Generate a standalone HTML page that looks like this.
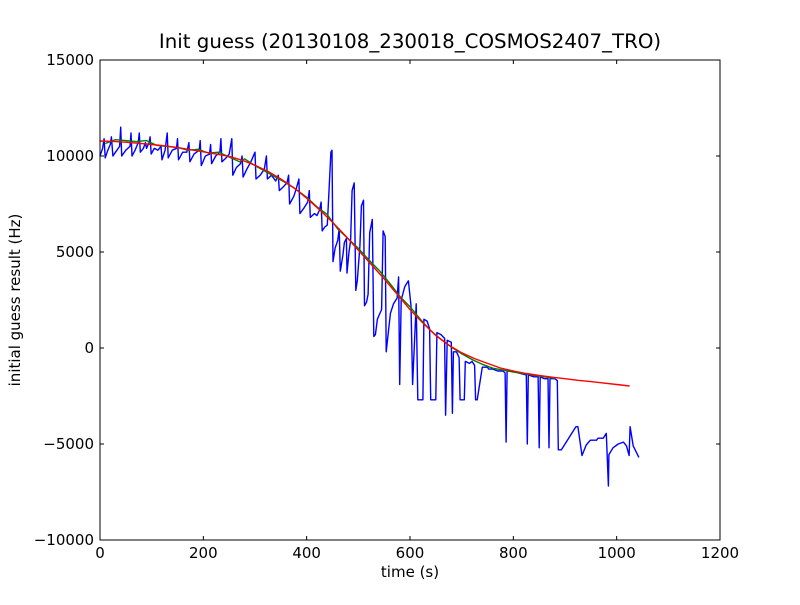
<!DOCTYPE html>
<html><head><meta charset="utf-8"><style>
body{margin:0;background:#fff}
svg text{font-family:"DejaVu Sans","Liberation Sans",sans-serif;fill:#000}
</style></head><body>
<svg id="chart" width="800" height="600" xmlns="http://www.w3.org/2000/svg">
<rect width="800" height="600" fill="#fff"/>
<text x="410" y="48" font-size="19.8" text-anchor="middle">Init guess (20130108_230018_COSMOS2407_TRO)</text>
<text x="410" y="577" font-size="15" text-anchor="middle">time (s)</text>
<text x="20" y="300" font-size="15" text-anchor="middle" transform="rotate(-90 20 300)">initial guess result (Hz)</text>
<g id="ticks"></g>
<g id="plot"></g>
<rect x="100" y="60" width="620" height="480" fill="none" stroke="#000" stroke-width="1"/>
</svg>
<script>
const xTicks=[0,200,400,600,800,1000,1200];
const yTicks=[-10000,-5000,0,5000,10000,15000];
const yTickLabels=["\u221210000","\u22125000","0","5000","10000","15000"];
const blueT=[0,5,8,10,15,20,22,25,30,38,40,42,50,58,60,62,68,74,76,78,84,88,90,95,97,99,105,112,118,120,126,130,132,140,148,150,152,160,168,172,174,182,192,194,196,204,212,214,216,224,232,234,236,244,250,255,257,264,272,275,277,284,292,300,302,310,318,322,324,332,340,345,347,355,362,365,367,375,380,385,387,395,402,405,407,415,420,425,428,430,435,440,447,449,451,455,460,463,465,470,473,477,478,482,485,488,492,495,498,503,506,510,512,516,519,522,527,530,533,537,540,545,548,552,554,562,568,575,578,580,583,590,597,602,605,612,615,625,627,633,638,640,650,652,660,667,669,672,680,682,684,690,695,697,705,707,715,720,725,727,730,740,750,752,760,770,780,784,786,788,800,810,825,827,829,840,848,850,852,860,867,869,871,880,885,887,893,921,925,933,941,949,961,964,974,980,984,985,993,1003,1013,1019,1024,1026,1032,1043];
const blueV=[10000,10400,10900,9900,10300,10600,11000,10000,10200,10500,11500,10000,10300,10500,11200,10000,10300,10700,11200,10200,10400,10700,10400,10700,11000,10100,10400,10300,10500,9800,10300,11200,9900,10300,10400,10900,9800,10200,10200,10700,9700,10100,10300,10800,9500,10000,10100,10600,9600,10000,10200,10900,9700,9900,10100,10900,9000,9400,9600,10000,8900,9300,9700,10200,8800,9000,9300,10000,8800,9000,8700,9000,8200,8400,8600,9000,7500,7900,8300,8800,7000,7300,7600,8200,6800,7000,6900,7200,7600,6100,6300,6400,10200,10300,4500,5200,5600,6200,4000,4800,5500,5700,3900,5000,5600,8200,8600,3000,3500,5300,7400,7700,2200,2400,2800,6000,6700,600,700,1500,1700,2000,6100,5800,-200,1800,2300,2600,3700,-1900,2500,3200,3500,2200,-1900,2300,-2700,-2700,1500,1400,1000,-2700,-2700,800,700,500,-3500,400,300,-3400,-200,-200,-500,-2700,-2700,-700,-800,-700,-900,-2700,-2700,-1000,-1000,-1100,-1100,-1200,-1200,-1300,-4900,-1200,-1200,-1300,-1400,-5000,-1400,-1500,-1500,-5200,-1500,-1600,-1600,-5200,-1600,-1600,-1700,-5300,-5300,-4100,-4100,-5600,-5050,-4800,-4800,-4700,-4700,-4450,-7190,-5550,-5200,-5000,-4900,-5100,-5600,-4100,-5100,-5700];
const greenT=[10,30,50,70,90,110,130,150,170,190,210,230,250,270,280,300,320,340,360,380,400,420,440,460,480,500,520,540,560,580,600,620,640,660,680,700,720,740,760,780,800,820,840,860,880];
const greenV=[10650,10850,10800,10750,10800,10550,10500,10450,10300,10350,10150,10200,9950,9700,9850,9500,9200,8900,8600,8250,7850,7350,6950,6200,5700,5200,4600,4050,3400,2700,2150,1500,900,450,50,-300,-600,-850,-1050,-1150,-1250,-1330,-1420,-1500,-1580];
const redT=[0,25,50,75,100,125,150,175,200,225,250,275,300,325,350,375,400,425,450,475,500,525,550,575,600,625,650,675,700,725,750,775,800,825,850,875,900,925,950,975,1000,1025];
const redV=[10780,10760,10720,10660,10600,10530,10440,10330,10220,10100,9980,9780,9520,9200,8800,8350,7800,7200,6550,5850,5100,4350,3600,2800,2000,1300,650,150,-250,-550,-800,-1040,-1200,-1330,-1430,-1520,-1600,-1680,-1750,-1830,-1900,-1980];

const NS="http://www.w3.org/2000/svg";
const X=t=>100+t*620/1200;
const Y=v=>540-(v+10000)*480/25000;
const ticks=document.getElementById('ticks');
const plot=document.getElementById('plot');
function mk(tag,attrs,parent){const e=document.createElementNS(NS,tag);for(const k in attrs)e.setAttribute(k,attrs[k]);parent.appendChild(e);return e;}
xTicks.forEach(t=>{
  const x=X(t);
  const l1=mk('line',{x1:x,x2:x,y1:540,y2:536,stroke:'#000'},ticks);
  
  
  const l2=mk('line',{x1:x,x2:x,y1:60,y2:64,stroke:'#000'},ticks);
  
  
  const tx=mk('text',{x:x,y:558,'font-size':15,'text-anchor':'middle'},ticks);
  tx.textContent=t;
  
  
});
yTicks.forEach((v,i)=>{
  const y=Y(v);
  const l1=mk('line',{x1:100,x2:104,y1:y,y2:y,stroke:'#000'},ticks);
  
  
  const l2=mk('line',{x1:716,x2:720,y1:y,y2:y,stroke:'#000'},ticks);
  
  
  const tx=mk('text',{x:94,y:y+5,'font-size':15,'text-anchor':'end'},ticks);
  tx.textContent=yTickLabels[i];
  
  
});
function series(T,V,color,name){
  const d=T.map((t,i)=>(i?'L':'M')+X(t).toFixed(1)+','+Y(V[i]).toFixed(1)).join('');
  const p=mk('path',{d:d,fill:'none',stroke:color,'stroke-width':1.4,'stroke-linejoin':'round'},plot);
  
  
}
series(blueT,blueV,'#0000ff','raw-guess-line');
series(greenT,greenV,'#008000','smoothed-line');
series(redT,redV,'#ff0000','fit-line');
</script>
</body></html>
